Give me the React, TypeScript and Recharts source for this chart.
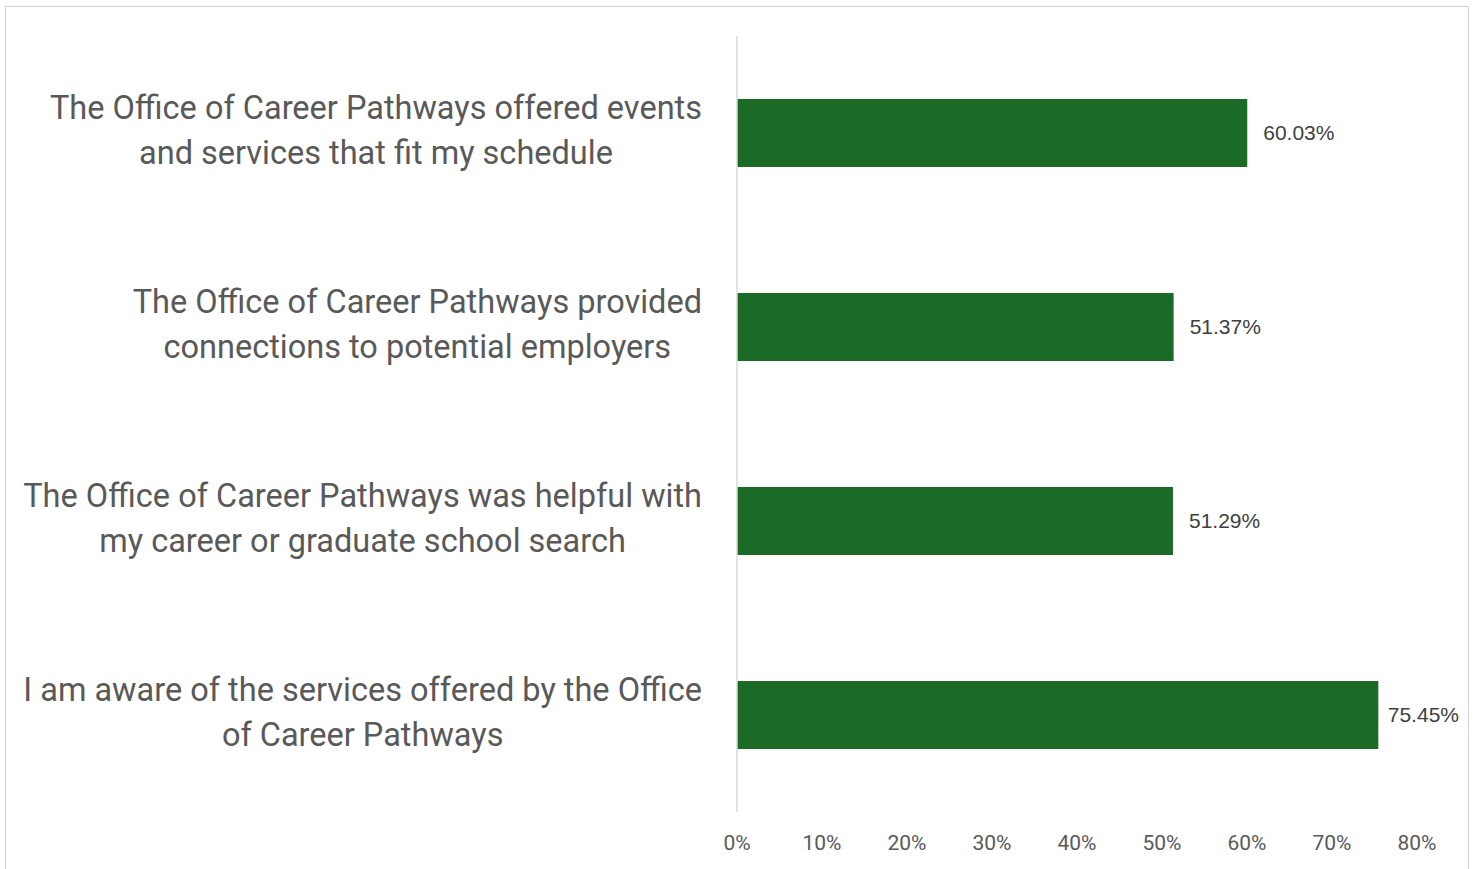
import React from "react";
import { BarChart, Bar, XAxis, YAxis, LabelList } from "recharts";

const statements = [
  "The Office of Career Pathways offered events|and services that fit my schedule",
  "The Office of Career Pathways provided|connections to potential employers",
  "The Office of Career Pathways was helpful with|my career or graduate school search",
  "I am aware of the services offered by the Office|of Career Pathways",
];
const agreeShare = [0.6003, 0.5137, 0.5129, 0.7545];
const xTicks = [0, 0.1, 0.2, 0.3, 0.4, 0.5, 0.6, 0.7, 0.8];

const data = statements.map((s, i) => ({ statement: s, value: agreeShare[i] }));

const LABEL_SIZE = 32.5;
const LABEL_RIGHT = 702;
const VALUE_FONT = "21px 'Liberation Sans', Arial";
const VALUE_MAX_RIGHT = 1459;

let ctx: CanvasRenderingContext2D | null = null;
function textWidth(t: string, font: string) {
  if (!ctx) ctx = document.createElement("canvas").getContext("2d");
  if (!ctx) return t.length * 15;
  ctx.font = font;
  return ctx.measureText(t).width;
}

function StatementTick(props: any) {
  const { y, payload } = props;
  const lines: string[] = String(payload.value).split("|");
  const widest = Math.max(...lines.map((l) => textWidth(l, `${LABEL_SIZE}px Roboto`)));
  const cx = LABEL_RIGHT - widest / 2;
  return (
    <text x={cx} y={y} textAnchor="middle" fontFamily="Roboto" fontSize={LABEL_SIZE} fill="#595959">
      {lines.map((ln, i) => (
        <tspan key={i} x={cx} y={y + (i - (lines.length - 1) / 2) * 45} dy={8.5}>
          {ln}
        </tspan>
      ))}
    </text>
  );
}

// value label to the right of the bar, pulled in if it would run past the plot edge
function ValueLabel(props: any) {
  const { x, y, width, height, value } = props;
  const txt = `${(Number(value) * 100).toFixed(2)}%`;
  const w = textWidth(txt, VALUE_FONT);
  const lx = Math.min(x + width + 16, VALUE_MAX_RIGHT - w);
  return (
    <text
      x={lx}
      y={y + height / 2}
      dy={7}
      fontSize={21}
      fill="#404040"
      fontFamily="Liberation Sans, Arial"
    >
      {txt}
    </text>
  );
}

export default function App() {
  return (
    <div style={{ position: "absolute", left: 0, top: 0, width: 1474, height: 869, background: "#fff", overflow: "hidden" }}>
      <div
        style={{
          position: "absolute",
          left: 5,
          top: 6,
          width: 1464,
          height: 880,
          border: "1px solid #d0d0d0",
          boxSizing: "border-box",
        }}
      />
      <div style={{ position: "absolute", left: 0, top: 0 }}>
        <BarChart
          width={1474}
          height={869}
          data={data}
          layout="vertical"
          margin={{ top: 36, right: 57, left: 0, bottom: 0 }}
        >
          <XAxis
            type="number"
            domain={[0, 0.8]}
            ticks={xTicks}
            tickFormatter={(v) => `${Math.round(v * 100)}%`}
            axisLine={false}
            tickLine={false}
            height={57}
            tick={{ fontSize: 21, fill: "#595959", fontFamily: "Roboto", dy: 15 }}
          />
          <YAxis
            type="category"
            dataKey="statement"
            width={737}
            axisLine={{ stroke: "#d9d9d9", strokeWidth: 1.5 }}
            tickLine={false}
            tick={<StatementTick />}
            interval={0}
          />
          <Bar dataKey="value" fill="#1b6a25" barSize={68} isAnimationActive={false}>
            <LabelList dataKey="value" content={<ValueLabel />} />
          </Bar>
        </BarChart>
      </div>
    </div>
  );
}
